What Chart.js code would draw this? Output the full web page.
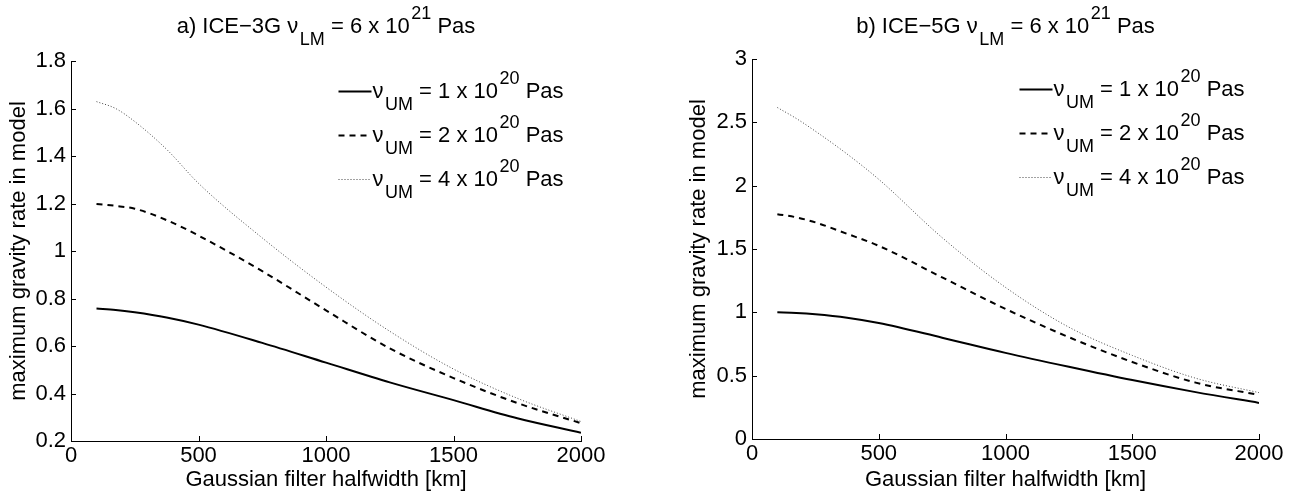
<!DOCTYPE html>
<html>
<head>
<meta charset="utf-8">
<script src="https://cdn.jsdelivr.net/npm/chart.js@4.4.1/dist/chart.umd.min.js"></script>
<style>
  body { margin: 0; background: #fff; }
  #wrap { position: relative; width: 1299px; height: 494px; }
  canvas { position: absolute; top: 0; }
</style>
</head>
<body>
<div id="wrap">
  <canvas id="chartA" width="650" height="494" style="left:0"></canvas>
  <canvas id="chartB" width="649" height="494" style="left:650px"></canvas>
</div>
<script>
// Gaussian filter halfwidth [km]
const halfwidths = [100, 175, 250, 375, 500, 750, 1000, 1250, 1500, 1750, 2000];

// a) ICE-3G, lower mantle 6e21 Pas
const ice3gUm1 = [0.758, 0.752, 0.742, 0.720, 0.690, 0.613, 0.530, 0.447, 0.372, 0.296, 0.235];
const ice3gUm2 = [1.198, 1.190, 1.178, 1.130, 1.065, 0.915, 0.750, 0.590, 0.465, 0.360, 0.275];
const ice3gUm4 = [1.629, 1.600, 1.545, 1.428, 1.285, 1.055, 0.848, 0.662, 0.503, 0.380, 0.282];

// b) ICE-5G, lower mantle 6e21 Pas
const ice5gUm1 = [1.000, 0.995, 0.985, 0.958, 0.916, 0.800, 0.680, 0.570, 0.465, 0.370, 0.285];
const ice5gUm2 = [1.775, 1.750, 1.710, 1.620, 1.525, 1.276, 1.027, 0.804, 0.608, 0.445, 0.348];
const ice5gUm4 = [2.617, 2.530, 2.430, 2.250, 2.050, 1.590, 1.197, 0.883, 0.660, 0.480, 0.366];

// upper mantle viscosity multipliers (x 10^20 Pas)
const umValues = ['1', '2', '4'];

const FONT = '"Liberation Sans", Arial, Helvetica, sans-serif';
const FS = 22;

const lineStyles = [
    { borderColor: '#000', borderWidth: 2, borderDash: [] },
    { borderColor: '#000', borderWidth: 2, borderDash: [6, 5] },
    { borderColor: '#444', borderWidth: 1, borderDash: [1, 2] }
];

// draw text with sub/superscripts
function richText(ctx, parts, x, y, align) {
    const small = 18;
    const pieces = parts.map(p => {
        const f = p.k === 'n' ? FS : small;
        ctx.font = f + 'px ' + FONT;
        const gap = p.k === 'n' ? 0 : 1.5;
        return { t: p.t, k: p.k, f: f, gap: gap, w: ctx.measureText(p.t).width + gap };
    });
    const total = pieces.reduce((a, p) => a + p.w, 0);
    let cx = align === 'center' ? x - total / 2 : x;
    ctx.textAlign = 'left';
    ctx.textBaseline = 'alphabetic';
    ctx.fillStyle = '#000';
    pieces.forEach(p => {
        ctx.font = p.f + 'px ' + FONT;
        const dy = p.k === 'sub' ? 12 : (p.k === 'sup' ? -14 : 0);
        ctx.fillText(p.t, cx + p.gap, y + dy);
        cx += p.w;
    });
}

const decorPlugin = {
    id: 'decor',
    afterDraw(chart, args, opts) {
        const ctx = chart.ctx;
        const area = chart.chartArea;
        const xs = chart.scales.x, ys = chart.scales.y;
        ctx.save();

        // inward tick marks
        ctx.strokeStyle = '#000';
        ctx.lineWidth = 1;
        ctx.beginPath();
        xs.ticks.forEach(t => {
            const px = Math.round(xs.getPixelForValue(t.value)) + 0.5;
            ctx.moveTo(px, area.bottom);
            ctx.lineTo(px, area.bottom - 5);
        });
        ys.ticks.forEach(t => {
            const py = Math.round(ys.getPixelForValue(t.value)) + 0.5;
            ctx.moveTo(area.left, py);
            ctx.lineTo(area.left + 5, py);
        });
        ctx.stroke();

        // title
        richText(ctx, opts.title, (area.left + area.right) / 2, opts.titleY, 'center');

        // legend
        chart.data.datasets.forEach((ds, i) => {
            const ly = area.top + 30 + 44 * i;
            const lx = area.left + 267.5;
            ctx.save();
            ctx.strokeStyle = ds.borderColor;
            ctx.lineWidth = ds.borderWidth;
            ctx.setLineDash(ds.borderDash);
            ctx.beginPath();
            ctx.moveTo(lx, ly + 0.5);
            ctx.lineTo(lx + 33, ly + 0.5);
            ctx.stroke();
            ctx.restore();
            richText(ctx, [
                { t: 'ν', k: 'n' }, { t: 'UM', k: 'sub' },
                { t: ' = ' + umValues[i] + ' x 10', k: 'n' }, { t: '20', k: 'sup' },
                { t: ' Pas', k: 'n' }
            ], lx + 34, ly + 7, 'left');
        });
        ctx.restore();
    }
};

function makeChart(id, series, yMin, yMax, yStep, title, box) {
    const datasets = series.map((vals, i) => Object.assign({
        label: 'νUM = ' + umValues[i] + ' x 10^20 Pas',
        data: halfwidths.map((x, j) => ({ x: x, y: vals[j] })),
        pointRadius: 0,
        fill: false,
        cubicInterpolationMode: 'monotone'
    }, lineStyles[i]));

    return new Chart(document.getElementById(id), {
        type: 'line',
        data: { datasets: datasets },
        options: {
            responsive: false,
            animation: false,
            events: [],
            layout: { padding: { left: 0, top: box.top, right: box.right, bottom: 0 } },
            plugins: {
                legend: { display: false },
                tooltip: { enabled: false },
                decor: { title: title, titleY: 33 }
            },
            scales: {
                x: {
                    type: 'linear', min: 0, max: 2000,
                    grid: { display: false, drawTicks: false },
                    border: { display: true, color: '#000', width: 1 },
                    ticks: {
                        stepSize: 500, padding: 2, color: '#000', maxRotation: 0,
                        font: { family: FONT, size: FS },
                        callback: v => String(v)
                    },
                    title: {
                        display: true, text: 'Gaussian filter halfwidth [km]', color: '#000',
                        font: { family: FONT, size: FS }, padding: { top: 0, bottom: 1 }
                    },
                    afterFit: s => { s.height = box.xh; }
                },
                y: {
                    type: 'linear', min: yMin, max: yMax,
                    grid: { display: false, drawTicks: false },
                    border: { display: true, color: '#000', width: 1 },
                    ticks: {
                        stepSize: yStep, padding: 5, color: '#000',
                        font: { family: FONT, size: FS },
                        callback: v => String(+v.toFixed(2))
                    },
                    title: {
                        display: true, text: 'maximum gravity rate in model', color: '#000',
                        font: { family: FONT, size: FS }, padding: { top: box.ytitle, bottom: 0 }
                    },
                    afterFit: s => { s.width = box.yw; }
                }
            }
        },
        plugins: [decorPlugin]
    });
}

document.addEventListener('DOMContentLoaded', function () {
    makeChart('chartA', [ice3gUm1, ice3gUm2, ice3gUm4], 0.2, 1.8, 0.2, [
        { t: 'a) ICE−3G ν', k: 'n' }, { t: 'LM', k: 'sub' },
        { t: ' = 6 x 10', k: 'n' }, { t: '21', k: 'sup' }, { t: ' Pas', k: 'n' }
    ], { top: 61, right: 69, xh: 53, yw: 71, ytitle: 6 });

    makeChart('chartB', [ice5gUm1, ice5gUm2, ice5gUm4], 0, 3, 0.5, [
        { t: 'b) ICE−5G ν', k: 'n' }, { t: 'LM', k: 'sub' },
        { t: ' = 6 x 10', k: 'n' }, { t: '21', k: 'sup' }, { t: ' Pas', k: 'n' }
    ], { top: 59, right: 40, xh: 55, yw: 102, ytitle: 36 });
});
</script>
</body>
</html>
